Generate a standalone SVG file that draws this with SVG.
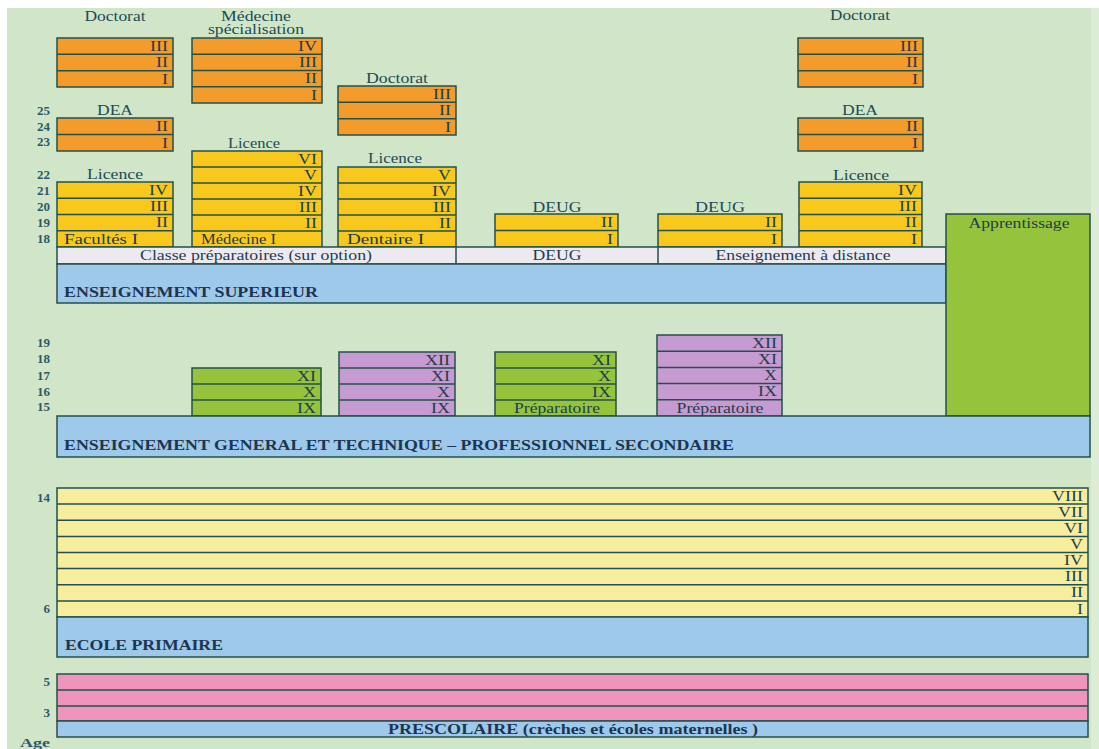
<svg xmlns="http://www.w3.org/2000/svg" width="1099" height="749" viewBox="0 0 1099 749">
<style>
.bx{stroke:#24504c;stroke-width:1.5}
.ln{stroke:#24504c;stroke-width:1.5;fill:none}
.or{fill:#f39b2b}.ye{fill:#f8c81c}.gr{fill:#95c43c}.pu{fill:#c69bd2}.bl{fill:#9ec9ea}.st{fill:#ede9f0}.py{fill:#f7ed9e}.pk{fill:#ef94ba}
text{font-family:"Liberation Serif","Times New Roman",serif;font-size:14px;fill:#1e3d4d}
.n{text-anchor:end}
.m{text-anchor:middle}
.h{font-weight:bold;font-size:14px;fill:#1d3550}
.a{font-weight:bold;font-size:13px;fill:#2d5a68;text-anchor:end}
.l{fill:#204a57}
</style>
<rect x="0" y="0" width="1099" height="749" fill="#ffffff"/>
<rect x="7" y="8" width="1092" height="741" fill="#d1e6c8"/>
<rect x="1091" y="8" width="8" height="741" fill="#dcecd5"/>

<g id="ages">
<text class="a" x="50" y="115">25</text>
<text class="a" x="50" y="131">24</text>
<text class="a" x="50" y="146">23</text>
<text class="a" x="50" y="179">22</text>
<text class="a" x="50" y="195">21</text>
<text class="a" x="50" y="211">20</text>
<text class="a" x="50" y="227">19</text>
<text class="a" x="50" y="243">18</text>
<text class="a" x="50" y="347">19</text>
<text class="a" x="50" y="363">18</text>
<text class="a" x="50" y="380">17</text>
<text class="a" x="50" y="396">16</text>
<text class="a" x="50" y="411">15</text>
<text class="a" x="50" y="502">14</text>
<text class="a" x="50" y="613">6</text>
<text class="a" x="50" y="686">5</text>
<text class="a" x="50" y="717">3</text>
<text class="a" x="50" y="747" font-size="11" textLength="30" lengthAdjust="spacingAndGlyphs">Age</text>
</g>

<g id="doctorat-gauche">
<text class="m l" x="115" y="21" textLength="61" lengthAdjust="spacingAndGlyphs">Doctorat</text>
<rect class="bx or" x="57" y="38" width="116" height="49"/>
<path class="ln" d="M57 54.3H173M57 70.7H173"/>
<text class="n" x="168" y="51" textLength="18" lengthAdjust="spacingAndGlyphs">III</text>
<text class="n" x="168" y="67" textLength="12" lengthAdjust="spacingAndGlyphs">II</text>
<text class="n" x="168" y="84" textLength="6" lengthAdjust="spacingAndGlyphs">I</text>
</g>

<g id="medecine-specialisation">
<text class="m l" x="256" y="21" textLength="70" lengthAdjust="spacingAndGlyphs">Médecine</text>
<text class="m l" x="256" y="34" textLength="96" lengthAdjust="spacingAndGlyphs">spécialisation</text>
<rect class="bx or" x="192" y="38" width="130" height="65"/>
<path class="ln" d="M192 54.25H322M192 70.5H322M192 86.75H322"/>
<text class="n" x="317" y="51" textLength="19" lengthAdjust="spacingAndGlyphs">IV</text>
<text class="n" x="317" y="67" textLength="18" lengthAdjust="spacingAndGlyphs">III</text>
<text class="n" x="317" y="83" textLength="12" lengthAdjust="spacingAndGlyphs">II</text>
<text class="n" x="317" y="100" textLength="6" lengthAdjust="spacingAndGlyphs">I</text>
</g>

<g id="doctorat-dentaire">
<text class="m l" x="397" y="83" textLength="62" lengthAdjust="spacingAndGlyphs">Doctorat</text>
<rect class="bx or" x="338" y="86" width="118" height="49"/>
<path class="ln" d="M338 102.3H456M338 118.7H456"/>
<text class="n" x="451" y="99" textLength="18" lengthAdjust="spacingAndGlyphs">III</text>
<text class="n" x="451" y="115" textLength="12" lengthAdjust="spacingAndGlyphs">II</text>
<text class="n" x="451" y="132" textLength="6" lengthAdjust="spacingAndGlyphs">I</text>
</g>

<g id="dea-gauche">
<text class="m l" x="115" y="115" textLength="36" lengthAdjust="spacingAndGlyphs">DEA</text>
<rect class="bx or" x="57" y="118" width="116" height="33"/>
<path class="ln" d="M57 134.5H173"/>
<text class="n" x="168" y="131" textLength="12" lengthAdjust="spacingAndGlyphs">II</text>
<text class="n" x="168" y="148" textLength="6" lengthAdjust="spacingAndGlyphs">I</text>
</g>

<g id="licence-gauche">
<text class="m l" x="115" y="179" textLength="56" lengthAdjust="spacingAndGlyphs">Licence</text>
<rect class="bx ye" x="57" y="182" width="116" height="65"/>
<path class="ln" d="M57 198.25H173M57 214.5H173M57 230.75H173"/>
<text class="n" x="168" y="195" textLength="19" lengthAdjust="spacingAndGlyphs">IV</text>
<text class="n" x="168" y="211" textLength="18" lengthAdjust="spacingAndGlyphs">III</text>
<text class="n" x="168" y="227" textLength="12" lengthAdjust="spacingAndGlyphs">II</text>
<text x="64" y="244" textLength="74" lengthAdjust="spacingAndGlyphs">Facultés  I</text>
</g>

<g id="licence-medecine">
<text class="m l" x="254" y="148" textLength="52" lengthAdjust="spacingAndGlyphs">Licence</text>
<rect class="bx ye" x="192" y="151" width="130" height="96"/>
<path class="ln" d="M192 167H322M192 183H322M192 199H322M192 215H322M192 231H322"/>
<text class="n" x="317" y="164" textLength="19" lengthAdjust="spacingAndGlyphs">VI</text>
<text class="n" x="317" y="180" textLength="13" lengthAdjust="spacingAndGlyphs">V</text>
<text class="n" x="317" y="196" textLength="19" lengthAdjust="spacingAndGlyphs">IV</text>
<text class="n" x="317" y="212" textLength="18" lengthAdjust="spacingAndGlyphs">III</text>
<text class="n" x="317" y="228" textLength="12" lengthAdjust="spacingAndGlyphs">II</text>
<text x="201" y="244" textLength="75" lengthAdjust="spacingAndGlyphs">Médecine I</text>
</g>

<g id="licence-dentaire">
<text class="m l" x="395" y="163" textLength="54" lengthAdjust="spacingAndGlyphs">Licence</text>
<rect class="bx ye" x="338" y="167" width="118" height="80"/>
<path class="ln" d="M338 183H456M338 199H456M338 215H456M338 231H456"/>
<text class="n" x="451" y="180" textLength="13" lengthAdjust="spacingAndGlyphs">V</text>
<text class="n" x="451" y="196" textLength="19" lengthAdjust="spacingAndGlyphs">IV</text>
<text class="n" x="451" y="212" textLength="18" lengthAdjust="spacingAndGlyphs">III</text>
<text class="n" x="451" y="228" textLength="12" lengthAdjust="spacingAndGlyphs">II</text>
<text x="347" y="244" textLength="77" lengthAdjust="spacingAndGlyphs">Dentaire  I</text>
</g>

<g id="deug-1">
<text class="m l" x="557" y="212" textLength="49" lengthAdjust="spacingAndGlyphs">DEUG</text>
<rect class="bx ye" x="495" y="214" width="123" height="33"/>
<path class="ln" d="M495 230.5H618"/>
<text class="n" x="613" y="227" textLength="12" lengthAdjust="spacingAndGlyphs">II</text>
<text class="n" x="613" y="244" textLength="6" lengthAdjust="spacingAndGlyphs">I</text>
</g>

<g id="deug-2">
<text class="m l" x="720" y="212" textLength="50" lengthAdjust="spacingAndGlyphs">DEUG</text>
<rect class="bx ye" x="658" y="214" width="124" height="33"/>
<path class="ln" d="M658 230.5H782"/>
<text class="n" x="777" y="227" textLength="12" lengthAdjust="spacingAndGlyphs">II</text>
<text class="n" x="777" y="244" textLength="6" lengthAdjust="spacingAndGlyphs">I</text>
</g>

<g id="doctorat-droite">
<text class="m l" x="860" y="20" textLength="60" lengthAdjust="spacingAndGlyphs">Doctorat</text>
<rect class="bx or" x="798" y="38" width="125" height="49"/>
<path class="ln" d="M798 54.3H923M798 70.7H923"/>
<text class="n" x="918" y="51" textLength="18" lengthAdjust="spacingAndGlyphs">III</text>
<text class="n" x="918" y="67" textLength="12" lengthAdjust="spacingAndGlyphs">II</text>
<text class="n" x="918" y="84" textLength="6" lengthAdjust="spacingAndGlyphs">I</text>
</g>

<g id="dea-droite">
<text class="m l" x="860" y="115" textLength="36" lengthAdjust="spacingAndGlyphs">DEA</text>
<rect class="bx or" x="798" y="118" width="125" height="33"/>
<path class="ln" d="M798 134.5H923"/>
<text class="n" x="918" y="131" textLength="12" lengthAdjust="spacingAndGlyphs">II</text>
<text class="n" x="918" y="148" textLength="6" lengthAdjust="spacingAndGlyphs">I</text>
</g>

<g id="licence-droite">
<text class="m l" x="861" y="180" textLength="56" lengthAdjust="spacingAndGlyphs">Licence</text>
<rect class="bx ye" x="799" y="182" width="123" height="65"/>
<path class="ln" d="M799 198.25H922M799 214.5H922M799 230.75H922"/>
<text class="n" x="917" y="195" textLength="19" lengthAdjust="spacingAndGlyphs">IV</text>
<text class="n" x="917" y="211" textLength="18" lengthAdjust="spacingAndGlyphs">III</text>
<text class="n" x="917" y="227" textLength="12" lengthAdjust="spacingAndGlyphs">II</text>
<text class="n" x="917" y="244" textLength="6" lengthAdjust="spacingAndGlyphs">I</text>
</g>

<g id="bande-superieure">
<rect class="bx st" x="57" y="247" width="889" height="17"/>
<path class="ln" d="M456 247V264M658 247V264"/>
<text class="m" x="256" y="260" font-size="13" textLength="232" lengthAdjust="spacingAndGlyphs">Classe préparatoires (sur option)</text>
<text class="m" x="557" y="260" font-size="13" textLength="49" lengthAdjust="spacingAndGlyphs">DEUG</text>
<text class="m" x="803" y="260" font-size="13" textLength="175" lengthAdjust="spacingAndGlyphs">Enseignement à distance</text>
</g>

<g id="enseignement-superieur">
<rect class="bx bl" x="57" y="264" width="889" height="39"/>
<text class="h" x="64" y="297" textLength="254" lengthAdjust="spacingAndGlyphs">ENSEIGNEMENT SUPERIEUR</text>
</g>

<g id="apprentissage">
<rect class="bx gr" x="946" y="214" width="144" height="202"/>
<text class="m" x="1019" y="228" font-size="13" textLength="101" lengthAdjust="spacingAndGlyphs">Apprentissage</text>
</g>

<g id="general-1">
<rect class="bx gr" x="192" y="368" width="129" height="48"/>
<path class="ln" d="M192 384H321M192 400H321"/>
<text class="n" x="316" y="381" textLength="19" lengthAdjust="spacingAndGlyphs">XI</text>
<text class="n" x="316" y="397" textLength="13" lengthAdjust="spacingAndGlyphs">X</text>
<text class="n" x="316" y="413" textLength="19" lengthAdjust="spacingAndGlyphs">IX</text>
</g>

<g id="technique-1">
<rect class="bx pu" x="339" y="352" width="116" height="64"/>
<path class="ln" d="M339 368H455M339 384H455M339 400H455"/>
<text class="n" x="450" y="365" textLength="25" lengthAdjust="spacingAndGlyphs">XII</text>
<text class="n" x="450" y="381" textLength="19" lengthAdjust="spacingAndGlyphs">XI</text>
<text class="n" x="450" y="397" textLength="13" lengthAdjust="spacingAndGlyphs">X</text>
<text class="n" x="450" y="413" textLength="19" lengthAdjust="spacingAndGlyphs">IX</text>
</g>

<g id="general-2">
<rect class="bx gr" x="495" y="352" width="121" height="64"/>
<path class="ln" d="M495 368H616M495 384H616M495 400H616"/>
<text class="n" x="611" y="365" textLength="19" lengthAdjust="spacingAndGlyphs">XI</text>
<text class="n" x="611" y="381" textLength="13" lengthAdjust="spacingAndGlyphs">X</text>
<text class="n" x="611" y="397" textLength="19" lengthAdjust="spacingAndGlyphs">IX</text>
<text class="m" x="557" y="413" font-size="13" textLength="86" lengthAdjust="spacingAndGlyphs">Préparatoire</text>
</g>

<g id="technique-2">
<rect class="bx pu" x="657" y="335" width="125" height="81"/>
<path class="ln" d="M657 351.2H782M657 367.4H782M657 383.6H782M657 399.8H782"/>
<text class="n" x="777" y="348" textLength="25" lengthAdjust="spacingAndGlyphs">XII</text>
<text class="n" x="777" y="364" textLength="19" lengthAdjust="spacingAndGlyphs">XI</text>
<text class="n" x="777" y="380" textLength="13" lengthAdjust="spacingAndGlyphs">X</text>
<text class="n" x="777" y="396" textLength="19" lengthAdjust="spacingAndGlyphs">IX</text>
<text class="m" x="720" y="413" font-size="13" textLength="87" lengthAdjust="spacingAndGlyphs">Préparatoire</text>
</g>

<g id="enseignement-secondaire">
<rect class="bx bl" x="57" y="416" width="1033" height="41"/>
<text class="h" x="64" y="450" textLength="670" lengthAdjust="spacingAndGlyphs">ENSEIGNEMENT GENERAL ET TECHNIQUE – PROFESSIONNEL SECONDAIRE</text>
</g>

<g id="primaire-classes">
<rect class="bx py" x="57" y="488" width="1031" height="129"/>
<path class="ln" d="M57 504.1H1088M57 520.25H1088M57 536.4H1088M57 552.5H1088M57 568.6H1088M57 584.75H1088M57 600.9H1088"/>
<text class="n" x="1083" y="501" textLength="31" lengthAdjust="spacingAndGlyphs">VIII</text>
<text class="n" x="1083" y="517" textLength="25" lengthAdjust="spacingAndGlyphs">VII</text>
<text class="n" x="1083" y="533" textLength="19" lengthAdjust="spacingAndGlyphs">VI</text>
<text class="n" x="1083" y="549" textLength="13" lengthAdjust="spacingAndGlyphs">V</text>
<text class="n" x="1083" y="565" textLength="19" lengthAdjust="spacingAndGlyphs">IV</text>
<text class="n" x="1083" y="581" textLength="18" lengthAdjust="spacingAndGlyphs">III</text>
<text class="n" x="1083" y="597" textLength="12" lengthAdjust="spacingAndGlyphs">II</text>
<text class="n" x="1083" y="614" textLength="6" lengthAdjust="spacingAndGlyphs">I</text>
</g>

<g id="ecole-primaire">
<rect class="bx bl" x="57" y="617" width="1031" height="40"/>
<text class="h" x="65" y="650" textLength="158" lengthAdjust="spacingAndGlyphs">ECOLE PRIMAIRE</text>
</g>

<g id="prescolaire-classes">
<rect class="bx pk" x="57" y="674" width="1031" height="47"/>
<path class="ln" d="M57 690H1088M57 706H1088"/>
</g>

<g id="prescolaire">
<rect class="bx bl" x="57" y="721" width="1031" height="16"/>
<text class="h" x="573" y="734" font-size="13" text-anchor="middle" textLength="370" lengthAdjust="spacingAndGlyphs">PRESCOLAIRE  (crèches et écoles maternelles )</text>
</g>

<g id="connectors"></g>
</svg>
